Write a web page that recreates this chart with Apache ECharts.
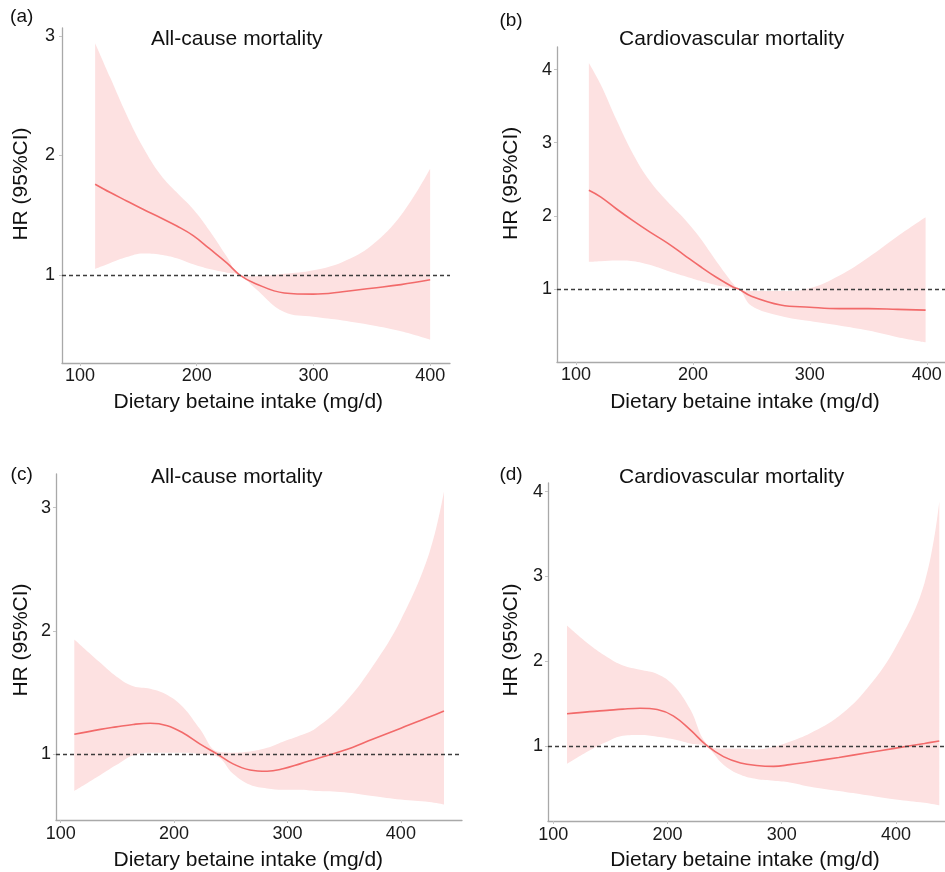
<!DOCTYPE html>
<html><head><meta charset="utf-8">
<script src="https://cdn.jsdelivr.net/npm/echarts@6/dist/echarts.min.js"></script>
<style>html,body{margin:0;padding:0;background:#fff}#c{width:945px;height:872px}</style>
</head><body><div id="c"></div>
<script>
// ---- data ----
const xTicks = [100, 200, 300, 400];
const yTicksA = [1, 2, 3];
const yTicksB = [1, 2, 3, 4];
const yTicksC = [1, 2, 3];
const yTicksD = [1, 2, 3, 4];

// (a) All-cause mortality
const xA  = [113, 126, 140, 154, 169, 183, 197, 211, 226, 237, 250, 275, 300, 325, 350, 375, 400];
const hrA = [1.76, 1.69, 1.62, 1.55, 1.48, 1.41, 1.33, 1.22, 1.10, 1.00, 0.93, 0.85, 0.84, 0.86, 0.89, 0.92, 0.96];
const upA = [2.94, 2.65, 2.34, 2.07, 1.84, 1.69, 1.55, 1.37, 1.15, 1.00, 0.99, 1.01, 1.04, 1.11, 1.25, 1.50, 1.89];
const loA = [1.05, 1.10, 1.15, 1.18, 1.17, 1.14, 1.09, 1.05, 1.02, 1.00, 0.89, 0.69, 0.65, 0.62, 0.58, 0.53, 0.46];

// (b) Cardiovascular mortality
const xB  = [111, 121, 135, 149, 163, 178, 192, 206, 220, 235, 239, 250, 275, 300, 325, 350, 375, 399];
const hrB = [2.35, 2.26, 2.09, 1.93, 1.78, 1.63, 1.47, 1.31, 1.16, 1.02, 1.00, 0.90, 0.78, 0.75, 0.73, 0.73, 0.72, 0.71];
const upB = [4.09, 3.80, 3.30, 2.84, 2.48, 2.20, 1.97, 1.70, 1.38, 1.06, 1.00, 0.97, 0.97, 1.01, 1.18, 1.43, 1.72, 1.98];
const loB = [1.37, 1.38, 1.39, 1.38, 1.33, 1.25, 1.18, 1.11, 1.05, 1.01, 1.00, 0.77, 0.63, 0.56, 0.50, 0.43, 0.34, 0.27];

// (c) All-cause mortality
const xC  = [112, 135, 149, 164, 179, 194, 208, 223, 238, 252, 267, 282, 296, 311, 325, 350, 375, 400, 425, 438];
const hrC = [1.16, 1.20, 1.22, 1.24, 1.25, 1.23, 1.17, 1.08, 1.00, 0.92, 0.87, 0.86, 0.88, 0.92, 0.96, 1.03, 1.12, 1.21, 1.30, 1.35];
const upC = [1.93, 1.74, 1.63, 1.55, 1.53, 1.48, 1.38, 1.20, 1.02, 1.01, 1.02, 1.05, 1.10, 1.15, 1.21, 1.41, 1.71, 2.09, 2.63, 3.13];
const loC = [0.70, 0.83, 0.91, 0.99, 1.01, 1.01, 1.01, 1.00, 0.98, 0.84, 0.75, 0.72, 0.71, 0.71, 0.70, 0.69, 0.66, 0.63, 0.61, 0.59];

// (d) Cardiovascular mortality
const xD  = [112, 132, 147, 161, 176, 191, 205, 220, 234, 249, 264, 278, 293, 307, 325, 350, 375, 400, 425, 438];
const hrD = [1.38, 1.405, 1.42, 1.435, 1.445, 1.43, 1.355, 1.19, 1.01, 0.875, 0.80, 0.77, 0.76, 0.78, 0.815, 0.865, 0.92, 0.975, 1.03, 1.06];
const upD = [2.42, 2.19, 2.05, 1.95, 1.90, 1.85, 1.72, 1.43, 1.03, 0.97, 0.97, 0.96, 0.99, 1.05, 1.15, 1.35, 1.68, 2.17, 2.92, 3.88];
const loD = [0.79, 0.95, 1.05, 1.12, 1.13, 1.11, 1.08, 1.03, 0.99, 0.78, 0.66, 0.61, 0.59, 0.57, 0.52, 0.47, 0.42, 0.37, 0.33, 0.30];

const titles = ['All-cause mortality', 'Cardiovascular mortality', 'All-cause mortality', 'Cardiovascular mortality'];
const tags = ['(a)', '(b)', '(c)', '(d)'];
const xName = 'Dietary betaine intake (mg/d)';
const yName = 'HR (95%CI)';
const refValue = 1;

// ---- layout / style ----
const FONT = "'Liberation Sans', Arial, Helvetica, sans-serif";
const LINE = '#F26A6A';
const BAND = '#FDE1E1';
const AXIS = '#a9a9a9';

const panels = [
  {x:xA, hr:hrA, up:upA, lo:loA, yt:yTicksA, grid:{left:62, top:28, width:388, height:335}, xr:[84.6, 417], yr:[0.264, 3.067], ylm:7, xlm:4,
   tag:[21.7,16.7], title:[236.7,39.5], yn:[21.7,184], xn:[248.3,402]},
  {x:xB, hr:hrB, up:upB, lo:loB, yt:yTicksB, grid:{left:557, top:47, width:388, height:315}, xr:[83.75, 415.6], yr:[0, 4.31], ylm:5, xlm:4,
   tag:[511,20.8], title:[731.7,39.5], yn:[510.8,183.3], xn:[745,402]},
  {x:xC, hr:hrC, up:upC, lo:loC, yt:yTicksC, grid:{left:56, top:474, width:406, height:346}, xr:[95.86, 453.9], yr:[0.4643, 3.273], ylm:5, xlm:5,
   tag:[21.7,475], title:[236.7,477.7], yn:[21.7,640], xn:[248.3,860]},
  {x:xD, hr:hrD, up:upD, lo:loD, yt:yTicksD, grid:{left:548, top:483, width:397, height:338}, xr:[95.36, 443.0], yr:[0.1156, 4.1015], ylm:5, xlm:5,
   tag:[511,475], title:[731.7,477.7], yn:[510.8,640], xn:[745,860]}
];

const grid = [], xAxis = [], yAxis = [], series = [], graphic = [];
panels.forEach((p, i) => {
  grid.push(Object.assign({containLabel:false, outerBoundsMode:'none'}, p.grid));
  xAxis.push({type:'value', gridIndex:i, min:p.xr[0], max:p.xr[1],
    splitLine:{show:false},
    axisLine:{show:true, onZero:false, lineStyle:{color:AXIS, width:1.3}},
    axisTick:{show:true, length:3, customValues:xTicks, lineStyle:{color:'#c4c4c4'}},
    axisLabel:{customValues:xTicks, fontSize:18, color:'#1a1a1a', fontFamily:FONT, margin:p.xlm}});
  yAxis.push({type:'value', gridIndex:i, min:p.yr[0], max:p.yr[1],
    splitLine:{show:false},
    axisLine:{show:true, onZero:false, lineStyle:{color:AXIS, width:1.3}},
    axisTick:{show:true, length:3, customValues:p.yt, lineStyle:{color:'#c4c4c4'}},
    axisLabel:{customValues:p.yt, fontSize:18, color:'#1a1a1a', fontFamily:FONT, margin:p.ylm}});
  // confidence band: lower (invisible) + width stacked on top
  series.push({type:'line', xAxisIndex:i, yAxisIndex:i, stack:'ci'+i, silent:true,
    data:p.x.map((v,k)=>[p.lo[k], v]), encode:{x:1, y:0},
    smooth:0.4, symbol:'none', lineStyle:{opacity:0, width:0}, z:1});
  series.push({type:'line', xAxisIndex:i, yAxisIndex:i, stack:'ci'+i, silent:true,
    data:p.x.map((v,k)=>[+(p.up[k]-p.lo[k]).toFixed(4), v]), encode:{x:1, y:0},
    smooth:0.4, symbol:'none', lineStyle:{opacity:0, width:0},
    areaStyle:{color:BAND, opacity:1}, z:1});
  series.push({type:'line', xAxisIndex:i, yAxisIndex:i, silent:true,
    data:p.x.map((v,k)=>[v, p.hr[k]]),
    smooth:0.4, symbol:'none', lineStyle:{color:LINE, width:1.6}, z:3,
    markLine:{silent:true, symbol:['none','none'], label:{show:false},
      lineStyle:{type:[4,3], color:'#3c3c3c', width:1.3},
      data:[{yAxis:refValue}]}});
  graphic.push({type:'text', x:p.tag[0], y:p.tag[1],
    style:{text:tags[i], font:'19px '+FONT, fill:'#111', align:'center', verticalAlign:'middle'}});
  graphic.push({type:'text', x:p.title[0], y:p.title[1],
    style:{text:titles[i], font:'21px '+FONT, fill:'#111', align:'center', verticalAlign:'middle'}});
  graphic.push({type:'text', x:p.xn[0], y:p.xn[1],
    style:{text:xName, font:'21px '+FONT, fill:'#111', align:'center', verticalAlign:'middle'}});
  graphic.push({type:'text', x:p.yn[0], y:p.yn[1], rotation:Math.PI/2,
    style:{text:yName, font:'21px '+FONT, fill:'#111', align:'center', verticalAlign:'middle'}});
});

const chart = echarts.init(document.getElementById('c'), null, {renderer:'canvas'});
chart.setOption({animation:false, backgroundColor:'#fff', grid, xAxis, yAxis, series, graphic});
</script>
</body></html>
